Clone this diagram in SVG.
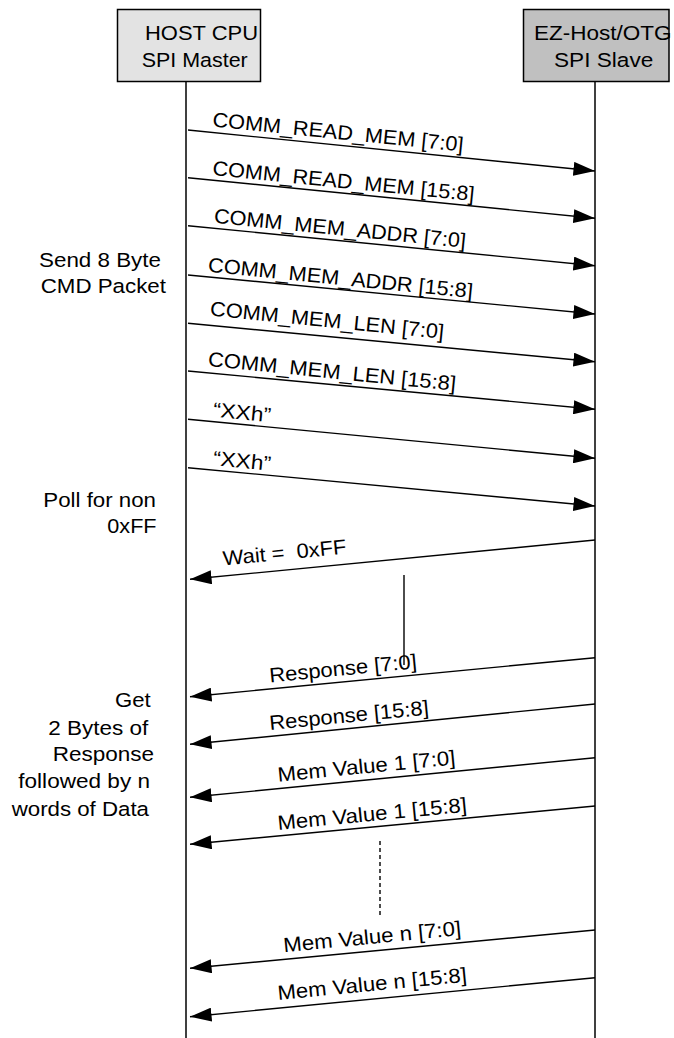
<svg xmlns="http://www.w3.org/2000/svg" width="674" height="1038" viewBox="0 0 674 1038">
<style>
text{font-family:"Liberation Sans",Arial,sans-serif;font-size:20.5px;fill:#000}
.life{stroke:#000;stroke-width:1.5;fill:none}
.msg{stroke:#000;stroke-width:1.4;fill:none;marker-end:url(#ah)}
.box{stroke:#000;stroke-width:1.5}
</style>
<defs>
<marker id="ah" markerUnits="userSpaceOnUse" markerWidth="22" markerHeight="14" viewBox="0 0 20 13" refX="20" refY="6.5" orient="auto">
<path d="M0,0 L20,6.5 L0,13 z" fill="#000"/>
</marker>
</defs>
<rect width="674" height="1038" fill="#fff"/>
<g id="host">
<rect class="box" x="117.5" y="9.5" width="143" height="72" fill="#e3e3e3"/>
<text x="145" y="39.5" textLength="113" lengthAdjust="spacingAndGlyphs">HOST CPU</text>
<text x="141.7" y="66.7" textLength="106" lengthAdjust="spacingAndGlyphs">SPI Master</text>
</g>
<g id="slave">
<rect class="box" x="523.5" y="9.5" width="145.5" height="72" fill="#c0c0c0"/>
<text x="534" y="39.5" textLength="137.5" lengthAdjust="spacingAndGlyphs">EZ-Host/OTG</text>
<text x="554" y="66.7" textLength="99.3" lengthAdjust="spacingAndGlyphs">SPI Slave</text>
</g>
<g id="lifelines">
<line class="life" x1="186" y1="81.5" x2="186" y2="1038"/>
<line class="life" x1="595" y1="81.5" x2="595" y2="1038"/>
</g>
<g id="connectors">
<line class="msg" x1="188" y1="130" x2="595" y2="171"/>
<line class="msg" x1="188" y1="177.7" x2="595" y2="218.3"/>
<line class="msg" x1="188" y1="225.7" x2="595" y2="265.7"/>
<line class="msg" x1="188" y1="275" x2="595" y2="314"/>
<line class="msg" x1="188" y1="323.3" x2="595" y2="361.7"/>
<line class="msg" x1="188" y1="371" x2="595" y2="409.3"/>
<line class="msg" x1="188" y1="419.3" x2="595" y2="458.3"/>
<line class="msg" x1="188" y1="467.7" x2="595" y2="506"/>
<line class="msg" x1="595" y1="540" x2="190" y2="579.3"/>
<line class="msg" x1="595" y1="657.7" x2="190" y2="696.7"/>
<line class="msg" x1="595" y1="704" x2="190" y2="744.3"/>
<line class="msg" x1="595" y1="757.7" x2="190" y2="797.3"/>
<line class="msg" x1="595" y1="806" x2="190" y2="844.3"/>
<line class="msg" x1="595" y1="930" x2="190" y2="968.3"/>
<line class="msg" x1="595" y1="977.7" x2="190" y2="1016.7"/>
<line x1="404" y1="575" x2="404" y2="665" stroke="#000" stroke-width="1.4"/>
<line x1="380" y1="841" x2="380" y2="918" stroke="#000" stroke-width="1.4" stroke-dasharray="4,3"/>
</g>
<g id="msg-labels">
<text transform="translate(212,126.5) rotate(5.7)" textLength="252" lengthAdjust="spacingAndGlyphs">COMM_READ_MEM [7:0]</text>
<text transform="translate(212,175) rotate(5.7)" textLength="263" lengthAdjust="spacingAndGlyphs">COMM_READ_MEM [15:8]</text>
<text transform="translate(213.5,222.7) rotate(5.7)" textLength="253" lengthAdjust="spacingAndGlyphs">COMM_MEM_ADDR [7:0]</text>
<text transform="translate(207.5,271.7) rotate(5.7)" textLength="266" lengthAdjust="spacingAndGlyphs">COMM_MEM_ADDR [15:8]</text>
<text transform="translate(209.5,315.5) rotate(5.7)" textLength="235" lengthAdjust="spacingAndGlyphs">COMM_MEM_LEN [7:0]</text>
<text transform="translate(207.5,366) rotate(5.7)" textLength="249" lengthAdjust="spacingAndGlyphs">COMM_MEM_LEN [15:8]</text>
<text transform="translate(212.5,416.5) rotate(5.7)" textLength="58" lengthAdjust="spacingAndGlyphs">“XXh”</text>
<text transform="translate(212.5,465) rotate(5.7)" textLength="58" lengthAdjust="spacingAndGlyphs">“XXh”</text>
<text transform="translate(223.5,565.5) rotate(-5.55)" textLength="124" lengthAdjust="spacingAndGlyphs" xml:space="preserve">Wait =  0xFF</text>
<text transform="translate(270,682.5) rotate(-5.55)" textLength="148" lengthAdjust="spacingAndGlyphs">Response [7:0]</text>
<text transform="translate(270,730) rotate(-5.55)" textLength="160" lengthAdjust="spacingAndGlyphs">Response [15:8]</text>
<text transform="translate(278.3,781.7) rotate(-5.55)" textLength="178.5" lengthAdjust="spacingAndGlyphs">Mem Value 1 [7:0]</text>
<text transform="translate(278.3,830) rotate(-5.55)" textLength="190" lengthAdjust="spacingAndGlyphs">Mem Value 1 [15:8]</text>
<text transform="translate(284,952.3) rotate(-5.55)" textLength="178.5" lengthAdjust="spacingAndGlyphs">Mem Value n [7:0]</text>
<text transform="translate(278.3,1000) rotate(-5.55)" textLength="190" lengthAdjust="spacingAndGlyphs">Mem Value n [15:8]</text>
</g>
<g id="notes">
<text x="39" y="266.7" textLength="122" lengthAdjust="spacingAndGlyphs">Send 8 Byte</text>
<text x="40.7" y="293.3" textLength="125.3" lengthAdjust="spacingAndGlyphs">CMD Packet</text>
<text x="43.3" y="507.3" textLength="112.7" lengthAdjust="spacingAndGlyphs">Poll for non</text>
<text x="107.3" y="533.3" textLength="49.3" lengthAdjust="spacingAndGlyphs">0xFF</text>
<text x="115" y="707.3" textLength="35.7" lengthAdjust="spacingAndGlyphs">Get</text>
<text x="48.3" y="735" textLength="100" lengthAdjust="spacingAndGlyphs">2 Bytes of</text>
<text x="52.7" y="761" textLength="101.3" lengthAdjust="spacingAndGlyphs">Response</text>
<text x="18.3" y="788" textLength="131.7" lengthAdjust="spacingAndGlyphs">followed by n</text>
<text x="11.7" y="816" textLength="137.3" lengthAdjust="spacingAndGlyphs">words of Data</text>
</g>
</svg>
